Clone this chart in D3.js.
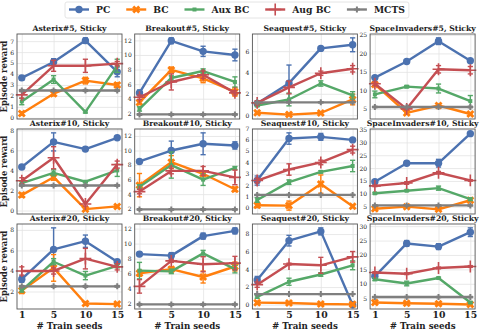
<!DOCTYPE html>
<html><head><meta charset="utf-8">
<script src="https://cdn.jsdelivr.net/npm/d3@7"></script>
<style>body{margin:0;background:#fff}</style>
</head><body>
<script>
// ---------- data ----------
const methods = ["PC", "BC", "Aux BC", "Aug BC", "MCTS"];
const seeds = ["1", "5", "10", "15"];
const titles = ["Asterix#5, Sticky","Breakout#5, Sticky","Seaquest#5, Sticky","SpaceInvaders#5, Sticky",
                "Asterix#10, Sticky","Breakout#10, Sticky","Seaquest#10, Sticky","SpaceInvaders#10, Sticky",
                "Asterix#20, Sticky","Breakout#20, Sticky","Seaquest#20, Sticky","SpaceInvaders#20, Sticky"];

// each: rows = PC, BC, Aux BC, Aug BC, MCTS ; cols = seeds
const asterix5Mean = [[3.65,5.1,7.05,4.2],[0.4,2.2,3.4,3.0],[1.5,3.5,0.55,4.75],[2.1,4.75,4.75,4.95],[2.5,2.5,2.5,2.5]];
const asterix5Err  = [[0.2,0.3,0.25,0.45],[0.15,0.2,0.3,0.2],[0.3,0.35,0.1,0.6],[0.3,0.5,0.6,0.2],[0.08,0.08,0.08,0.08]];
const breakout5Mean = [[4.8,11.95,10.5,10.0],[3.5,7.95,6.8,4.95],[2.6,6.85,7.8,6.3],[4.2,6.3,7.3,4.8],[1.85,1.85,1.85,1.85]];
const breakout5Err  = [[0.4,0.4,0.7,0.8],[0.3,0.4,0.6,0.6],[0.3,0.3,0.3,0.7],[0.3,1.1,0.5,0.3],[0.1,0.1,0.1,0.1]];
const seaquest5Mean = [[1.1,3.0,6.26,6.6],[0.22,0.05,0.2,1.47],[0.9,1.47,2.97,1.85],[1.15,2.6,3.93,4.35],[1.2,1.2,1.2,1.2]];
const seaquest5Err  = [[0.15,1.7,0.15,0.65],[0.1,0.05,0.1,0.5],[0.1,0.6,0.25,0.35],[0.2,0.6,0.2,0.3],[0.05,0.05,0.05,0.05]];
const invaders5Mean = [[13.45,17.8,23.3,18.0],[11.6,3.9,5.9,3.6],[8.9,11.0,10.5,7.1],[11.8,5.0,15.7,15.45],[5.5,5.5,5.5,5.5]];
const invaders5Err  = [[0.5,0.4,0.9,0.3],[0.5,0.3,0.4,0.3],[0.9,0.3,1.2,1.5],[0.5,0.3,1.0,1.0],[0.2,0.2,0.2,0.2]];

const asterix10Mean = [[4.34,6.84,6.12,7.25],[1.54,3.32,0.14,0.41],[2.74,3.76,2.87,4.0],[2.97,5.26,0.65,4.58],[2.5,2.5,2.5,2.5]];
const asterix10Err  = [[0.15,0.9,0.2,0.1],[0.2,0.3,0.1,0.1],[0.15,0.3,0.1,0.6],[0.3,1.1,0.2,0.35],[0.08,0.08,0.08,0.08]];
const breakout10Mean = [[8.5,10.0,10.93,10.7],[5.24,8.4,6.8,4.67],[5.0,8.0,6.0,7.6],[4.35,7.2,7.2,6.3],[1.9,1.9,1.9,1.9]];
const breakout10Err  = [[0.2,1.3,1.5,0.5],[1.6,0.9,0.4,0.3],[0.3,1.8,0.8,0.2],[0.3,0.4,0.6,1.0],[0.1,0.1,0.1,0.1]];
const seaquest10Mean = [[2.41,6.1,6.25,5.98],[0.24,0.21,2.1,0.15],[0.7,2.27,3.17,3.69],[2.41,3.38,4.0,5.13],[1.15,1.15,1.15,1.15]];
const seaquest10Err  = [[0.4,0.5,0.3,0.1],[0.2,0.4,0.8,0.1],[0.2,0.2,0.1,0.5],[0.2,0.5,0.2,0.3],[0.05,0.05,0.05,0.05]];
const invaders10Mean = [[14.7,21.9,21.9,33.4],[4.2,5.0,3.95,7.5],[10.2,11.2,12.2,7.9],[13.1,14.2,18.2,15.2],[5.5,5.5,5.5,5.5]];
const invaders10Err  = [[0.5,0.8,1.5,0.3],[0.3,0.3,0.3,0.3],[0.3,0.3,0.8,0.5],[0.3,0.5,0.5,0.3],[0.2,0.2,0.2,0.2]];

const asterix20Mean = [[3.2,6.1,6.9,4.9],[2.1,4.3,0.83,0.77],[2.1,4.9,3.55,4.5],[4.0,4.0,5.2,4.4],[2.5,2.5,2.5,2.5]];
const asterix20Err  = [[0.3,2.1,0.6,0.2],[0.3,1.3,0.15,0.1],[0.15,0.3,0.4,0.2],[0.4,0.3,1.0,0.3],[0.08,0.08,0.08,0.08]];
const breakout20Mean = [[8.6,8.4,11.0,11.7],[6.05,6.6,5.55,6.95],[6.4,6.3,8.7,6.6],[4.3,7.7,7.25,7.4],[1.9,1.9,1.9,1.9]];
const breakout20Err  = [[0.3,0.4,0.4,0.4],[0.4,0.3,0.8,0.6],[1.1,0.3,0.4,0.5],[0.9,0.2,1.0,0.9],[0.1,0.1,0.1,0.1]];
const seaquest20Mean = [[2.8,7.25,8.3,0.0],[0.23,0.2,0.08,0.04],[0.88,2.6,3.42,4.46],[2.27,4.6,4.46,5.42],[1.2,1.2,1.2,1.2]];
const seaquest20Err  = [[0.4,0.6,0.4,0.05],[0.15,0.15,0.05,0.05],[0.15,0.4,0.2,0.5],[0.3,0.1,0.9,0.6],[0.05,0.05,0.05,0.05]];
const invaders20Mean = [[12.6,24.0,22.9,27.9],[3.5,3.25,3.1,2.8],[11.6,10.1,12.0,3.5],[13.9,13.5,15.5,16.0],[5.4,5.4,5.4,5.4]];
const invaders20Err  = [[0.5,1.0,1.0,1.5],[0.3,0.2,0.2,0.2],[0.5,0.8,0.3,0.3],[0.3,0.3,0.3,0.3],[0.2,0.2,0.2,0.2]];

// y tick labels per panel
const yTicksAsterix5 = [0,1,2,3,4,5,6,7];
const yTicksBreakout = [2,4,6,8,10,12];
const yTicksSeaquest5 = [0,2,4,6];
const yTicksInvaders5 = [5,10,15,20,25];
const yTicksAsterix10 = [0,2,4,6,8];
const yTicksSeaquest10 = [0,1,2,3,4,5,6,7];
const yTicksInvaders10 = [5,10,15,20,25,30,35];
const yTicksAsterix20 = [2,4,6,8];
const yTicksSeaquest20 = [0,2,4,6,8];
const yTicksInvaders20 = [5,10,15,20,25,30];

const panelMeans = [asterix5Mean,breakout5Mean,seaquest5Mean,invaders5Mean,
                    asterix10Mean,breakout10Mean,seaquest10Mean,invaders10Mean,
                    asterix20Mean,breakout20Mean,seaquest20Mean,invaders20Mean];
const panelErrs = [asterix5Err,breakout5Err,seaquest5Err,invaders5Err,
                   asterix10Err,breakout10Err,seaquest10Err,invaders10Err,
                   asterix20Err,breakout20Err,seaquest20Err,invaders20Err];
const panelTicks = [yTicksAsterix5,yTicksBreakout,yTicksSeaquest5,yTicksInvaders5,
                    yTicksAsterix10,yTicksBreakout,yTicksSeaquest10,yTicksInvaders10,
                    yTicksAsterix20,yTicksBreakout,yTicksSeaquest20,yTicksInvaders20];

// ---------- style / layout ----------
const colors = ["#4C72B0","#FF7F0E","#55A868","#C44E52","#7F7F7F"];
const FONT = "'DejaVu Serif', serif";
const W = 482, H = 332;
const colLeft = [17, 134.7, 252.4, 370.1];
const rowTop = [34, 129, 224];
const plotW = 105, plotH = 85;

const svg = d3.select("body").append("svg").attr("width", W).attr("height", H)
  .style("font-family", FONT);

function drawMarker(sel, k, cx, cy) {
  const c = colors[k];
  if (k === 0) {
    sel.append("circle").attr("cx", cx).attr("cy", cy).attr("r", 3.7).attr("fill", c);
  } else if (k === 1) {
    sel.append("path").attr("d", d3.symbol(d3.symbolCross, 40)())
      .attr("transform", `translate(${cx},${cy}) rotate(45)`).attr("fill", c);
  } else if (k === 2) {
    sel.append("path").attr("d", d3.symbol(d3.symbolSquare, 16)())
      .attr("transform", `translate(${cx},${cy})`).attr("fill", c);
  } else if (k === 3) {
    sel.append("path").attr("d", d3.symbol(d3.symbolPlus || d3.symbolCross, 48)())
      .attr("transform", `translate(${cx},${cy})`).attr("fill", "none").attr("stroke", c).attr("stroke-width", 1.6);
  } else {
    sel.append("path").attr("d", d3.symbol(d3.symbolCross, 20)())
      .attr("transform", `translate(${cx},${cy})`).attr("fill", c);
  }
}

panelMeans.forEach((means, i) => {
  const r = Math.floor(i / 4), c = i % 4;
  const errs = panelErrs[i];
  const g = svg.append("g").attr("transform", `translate(${colLeft[c]},${rowTop[r]})`);
  const x = d3.scalePoint().domain(seeds).range([0, plotW]).padding(0.15);
  let lo = Infinity, hi = -Infinity;
  means.forEach((m, k) => m.forEach((v, j) => {
    lo = Math.min(lo, v - errs[k][j]); hi = Math.max(hi, v + errs[k][j]);
  }));
  const pad = (hi - lo) * 0.05;
  const y = d3.scaleLinear().domain([lo - pad, hi + pad]).range([plotH, 0]);

  // horizontal grid + y tick labels
  const ya = g.append("g").call(d3.axisLeft(y).tickValues(panelTicks[i]).tickSize(-plotW).tickPadding(3));
  ya.select(".domain").remove();
  ya.selectAll("line").attr("stroke", "#e3e3e3").attr("stroke-width", 0.8);
  ya.selectAll("text").attr("font-family", FONT).attr("font-size", 6).attr("fill", "#222");
  // vertical grid + x tick labels
  const xa = g.append("g").attr("transform", `translate(0,${plotH})`)
    .call(d3.axisBottom(x).tickSize(-plotH).tickPadding(2));
  xa.select(".domain").remove();
  xa.selectAll("line").attr("stroke", "#e3e3e3").attr("stroke-width", 0.8);
  if (r === 2) {
    xa.selectAll("text").attr("font-family", FONT).attr("font-size", 9.3).attr("font-weight", "bold").attr("fill", "#222");
  } else {
    xa.selectAll("text").remove();
  }

  // series
  means.forEach((m, k) => {
    const sg = g.append("g");
    const col = colors[k];
    const line = d3.line().x((d, j) => x(seeds[j])).y(d => y(d));
    sg.append("path").attr("d", line(m)).attr("fill", "none").attr("stroke", col)
      .attr("stroke-width", 2.4).attr("stroke-linejoin", "round");
    m.forEach((v, j) => {
      const xx = x(seeds[j]), e = errs[k][j];
      const y1 = y(v - e), y2 = y(v + e);
      sg.append("line").attr("x1", xx).attr("x2", xx).attr("y1", y1).attr("y2", y2)
        .attr("stroke", col).attr("stroke-width", 1.4);
      [y1, y2].forEach(yy => sg.append("line").attr("x1", xx - 2.6).attr("x2", xx + 2.6)
        .attr("y1", yy).attr("y2", yy).attr("stroke", col).attr("stroke-width", 1.4));
      drawMarker(sg, k, xx, y(v));
    });
  });

  // frame
  g.append("rect").attr("width", plotW).attr("height", plotH).attr("fill", "none")
    .attr("stroke", "#555").attr("stroke-width", 0.9);
  // title
  g.append("text").attr("x", plotW / 2).attr("y", -3).attr("text-anchor", "middle")
    .attr("font-size", 7.7).attr("font-weight", "bold").attr("fill", "#222").text(titles[i]);
  if (c === 0) {
    g.append("text").attr("transform", `translate(-10,${plotH / 2}) rotate(-90)`)
      .attr("text-anchor", "middle").attr("font-size", 8.3).attr("font-weight", "bold")
      .attr("fill", "#222").text("Episode reward");
  }
  if (r === 2) {
    g.append("text").attr("x", plotW / 2).attr("y", plotH + 20).attr("text-anchor", "middle")
      .attr("font-size", 8.7).attr("font-weight", "bold").attr("fill", "#222").text("# Train seeds");
  }
});

// ---------- legend ----------
const lg = svg.append("g");
const box = lg.append("rect").attr("fill", "#fff").attr("stroke", "#ddd").attr("stroke-width", 0.8).attr("rx", 2);
let lx = 0;
const items = lg.append("g");
methods.forEach((name, k) => {
  const it = items.append("g").attr("transform", `translate(${lx},0)`);
  it.append("line").attr("x1", 0).attr("x2", 20).attr("y1", 0).attr("y2", 0)
    .attr("stroke", colors[k]).attr("stroke-width", 2.4);
  drawMarker(it, k, 10, 0);
  const t = it.append("text").attr("x", 27).attr("y", 3.3).attr("font-size", 9.2)
    .attr("font-weight", "bold").attr("fill", "#222").text(name);
  lx += 27 + t.node().getComputedTextLength() + 16;
});
const totalW = lx - 16;
const legX = 69, legY = 9.5;
items.attr("transform", `translate(${legX},${legY})`);
box.attr("x", legX - 4).attr("y", 2).attr("width", totalW + 8).attr("height", 16);
</script>
</body></html>
